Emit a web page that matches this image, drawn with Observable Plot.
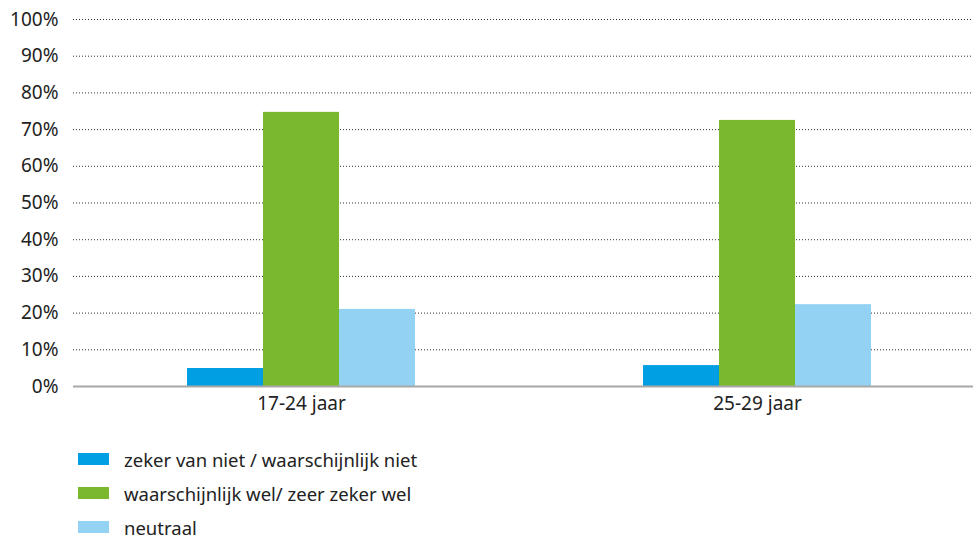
<!DOCTYPE html>
<html>
<head>
<meta charset="utf-8">
<script src="https://cdn.jsdelivr.net/npm/d3@7"></script>
<script src="https://cdn.jsdelivr.net/npm/@observablehq/plot@0.6"></script>
<style>
  html, body { margin: 0; padding: 0; background: #fff; overflow: hidden; }
  body { width: 973px; height: 535px; font-family: "Noto Sans", "Open Sans", sans-serif; color: #222; }
  #legend { margin-left: 78px; margin-top: 22px; }
  .item { display: flex; align-items: center; height: 34px; font-size: 18.5px; }
  .sw { width: 31px; height: 12px; margin-right: 15px; flex: none; }
</style>
</head>
<body>
<div id="chart"></div>
<div id="legend"></div>
<script>
const groups = ["17-24 jaar", "25-29 jaar"];
const series = ["zeker van niet / waarschijnlijk niet", "waarschijnlijk wel/ zeer zeker wel", "neutraal"];
const colors = ["#009FE3", "#7AB92E", "#93D2F3"];
const values = {
  "zeker van niet / waarschijnlijk niet": [4.9, 5.7],
  "waarschijnlijk wel/ zeer zeker wel": [74.7, 72.5],
  "neutraal": [21.0, 22.3]
};
const yTicks = [0, 10, 20, 30, 40, 50, 60, 70, 80, 90, 100];

const data = [];
groups.forEach((g, gi) => series.forEach(s => data.push({group: g, series: s, value: values[s][gi]})));

const chart = Plot.plot({
  width: 973,
  height: 420,
  marginLeft: 73,
  marginRight: 0,
  marginTop: 19,
  marginBottom: 34,
  style: {fontFamily: "Noto Sans, Open Sans, sans-serif", fontSize: "19px", color: "#222", background: "#fff"},
  fx: {domain: groups, range: [73, 985], paddingInner: 0, paddingOuter: 0, label: null},
  x: {domain: series, paddingInner: 0, paddingOuter: 1.5, axis: null},
  y: {domain: [0, 100], axis: null},
  color: {domain: series, range: colors},
  marks: [
    Plot.ruleY(yTicks.filter(d => d > 0), {stroke: "#333", strokeWidth: 1, strokeDasharray: "1,2", facet: "exclude"}),
    Plot.barY(data, {fx: "group", x: "series", y: "value", fill: "series"}),
    Plot.ruleY([0], {stroke: "#a8a8a8", strokeWidth: 2}),
    Plot.axisY({ticks: yTicks, tickFormat: d => d + "%", tickSize: 0, tickPadding: 15, fontSize: 19, fill: "#222", label: null, anchor: "left", frameAnchor: "left"}),
    Plot.axisFx({anchor: "bottom", tickSize: 0, tickPadding: 10, fontSize: 19, fill: "#222", label: null})
  ]
});
document.getElementById("chart").appendChild(chart);

const legend = document.getElementById("legend");
series.forEach((s, i) => {
  const item = document.createElement("div");
  item.className = "item";
  const sw = document.createElement("div");
  sw.className = "sw";
  sw.style.background = colors[i];
  const t = document.createElement("span");
  t.textContent = s;
  item.appendChild(sw);
  item.appendChild(t);
  legend.appendChild(item);
});
</script>
</body>
</html>
